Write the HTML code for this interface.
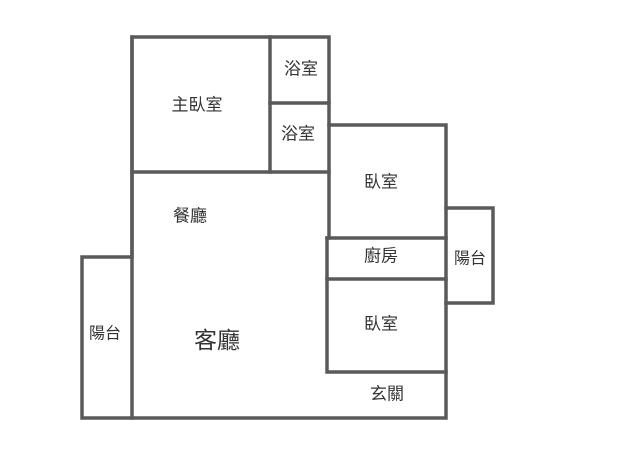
<!DOCTYPE html>
<html><head><meta charset="utf-8"><style>
html,body{margin:0;padding:0;background:#fff;}
text{font-family:"Liberation Sans","Noto Sans CJK TC",sans-serif;fill:#333;text-anchor:middle;dominant-baseline:central;}
</style></head><body>
<svg width="640" height="461" xmlns="http://www.w3.org/2000/svg">
<g stroke="#5a5a5a" stroke-width="3.5" fill="none" stroke-linecap="square">
<polyline points="132,37 329,37 329,125 446,125 446,418 82,418 82,257 132,257 132,37"/>
<line x1="132" y1="37" x2="132" y2="418"/>
<line x1="270" y1="37" x2="270" y2="172"/>
<line x1="270" y1="103" x2="329" y2="103"/>
<line x1="132" y1="172" x2="329" y2="172"/>
<line x1="329" y1="125" x2="329" y2="238"/>
<line x1="327" y1="238" x2="446" y2="238"/>
<line x1="327" y1="279" x2="446" y2="279"/>
<polyline points="327,238 327,372 446,372"/>
<polyline points="446,208 493,208 493,303 446,303"/>
</g>
<text x="197" y="105" font-size="17">主臥室</text>
<text x="301" y="69" font-size="17">浴室</text>
<text x="298" y="134" font-size="17">浴室</text>
<text x="381" y="182" font-size="17">臥室</text>
<text x="190" y="216" font-size="17">餐廳</text>
<text x="381" y="256" font-size="17">廚房</text>
<text x="470" y="259" font-size="16">陽台</text>
<text x="105" y="334" font-size="16">陽台</text>
<text x="217" y="340" font-size="23">客廳</text>
<text x="381" y="324" font-size="17">臥室</text>
<text x="387" y="394" font-size="17">玄關</text>
</svg>
</body></html>
